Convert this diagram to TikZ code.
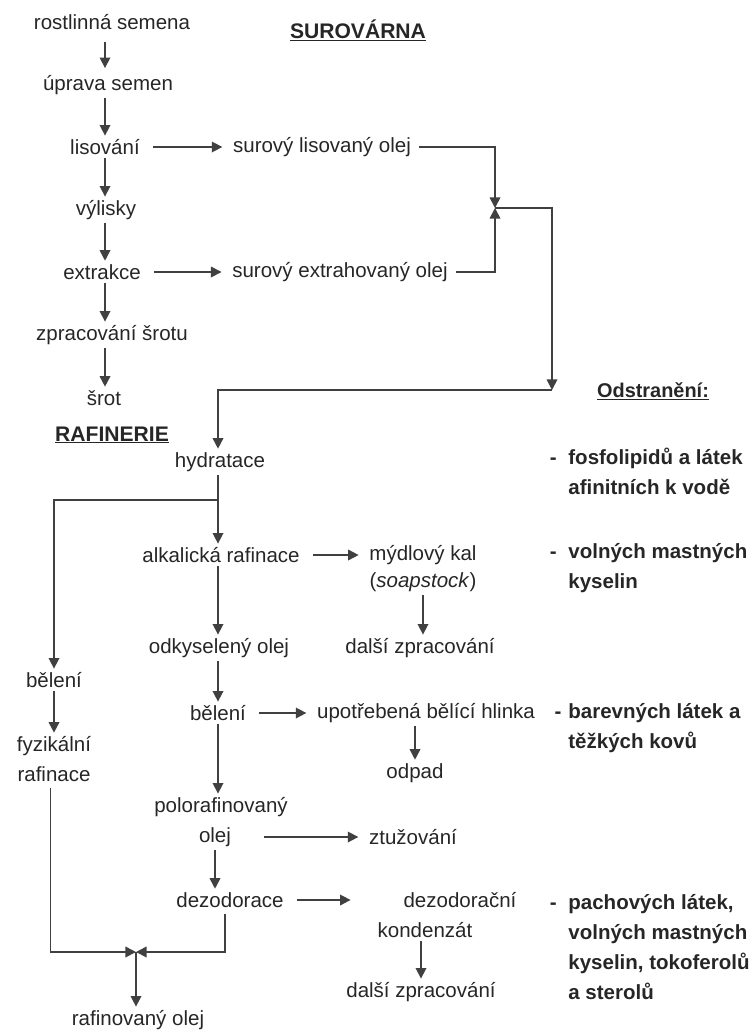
\documentclass[tikz,border=0pt]{standalone}
\usepackage{fontspec}
\setmainfont{Liberation Sans}
\usetikzlibrary{arrows.meta}
\newcommand{\pxunit}{0.03cm}
\tikzset{
	txt/.style={font=\fontsize{17.5}{25.5}\selectfont, text=black!85, inner sep=1pt, align=center},
	note/.style={txt, font=\fontsize{17.5}{25.5}\selectfont\bfseries, align=left, anchor=west},
	hdr/.style={font=\fontsize{18}{20}\selectfont\bfseries, text=black!85, inner sep=1pt},
	flow/.style={draw=black!75, line width=1.4pt, -{Triangle[length=9pt,width=9pt]}, shorten >=2pt, shorten <=2pt},
	feed/.style={flow, shorten <=10pt, shorten >=8pt}
}

\begin{document}
\begin{tikzpicture}[x=\pxunit,y=-\pxunit]
	\useasboundingbox (0,0) rectangle (751,1035);

	% surovarna
	\node[hdr] (hsur) at (358,30) {\underline{SUROVÁRNA}};
	\node[txt] (seeds) at (112,22) {rostlinná semena};
	\node[txt] (prep) at (108,85) {úprava semen};
	\node[txt] (press) at (105,147) {lisování};
	\node[txt] (cake) at (106,210) {výlisky};
	\node[txt] (extr) at (102,272) {extrakce};
	\node[txt] (meal) at (112,335) {zpracování šrotu};
	\node[txt] (srot) at (104,398) {šrot};
	\node[txt] (poil) at (322,147) {surový lisovaný olej};
	\node[txt] (eoil) at (340,272) {surový extrahovaný olej};

	\draw[flow, shorten <=9pt, shorten >=5pt] (seeds.south -| press) -- (prep.north -| press);
	\draw[flow] (prep.south -| press) -- (press.north);
	\draw[flow] (press.south) -- (cake.north -| press);
	\draw[flow] (cake.south -| press) -- (extr.north -| press);
	\draw[flow] (extr.south -| press) -- (meal.north -| press);
	\draw[flow] (meal.south -| press) -- (srot.north -| press);
	\draw[feed] (press) -- (poil);
	\draw[feed] (extr) -- (eoil);

	\coordinate (join) at (495,208);
	\coordinate (turn) at (552,390);
	\draw[flow, shorten <=6pt, shorten >=0pt] (poil.east) -| (join);
	\draw[flow, shorten <=6pt, shorten >=0pt] (eoil.east) -| (join);
	\draw[flow, shorten <=0pt, shorten >=0pt] (join) -| (turn);

	% rafinerie
	\node[hdr] (hraf) at (112,435) {\underline{RAFINERIE}};
	\node[hdr, font=\fontsize{17}{20}\selectfont\bfseries] (hodst) at (653,391) {\underline{Odstranění:}};
	\node[txt] (hydr) at (220,462) {hydratace};
	\node[txt] (alk) at (221,555) {alkalická rafinace};
	\node[txt] (soap) at (423,555) {mýdlový kal};
	\node[txt] (stock) at (423,582) {(\textit{soapstock})};
	\node[txt] (proc1) at (420,648) {další zpracování};
	\node[txt] (deac) at (219,648) {odkyselený olej};
	\node[txt] (bleach) at (218,713) {bělení};
	\node[txt] (earth) at (426,713) {upotřebená bělící hlinka};
	\node[txt] (waste) at (415,773) {odpad};
	\node[txt] (semi) at (221,807) {polorafinovaný};
	\node[txt] (semioil) at (215,837) {olej};
	\node[txt] (hard) at (413,837) {ztužování};
	\node[txt] (deod) at (230,900) {dezodorace};
	\node[txt] (cond) at (460,900) {dezodorační};
	\node[txt] (condb) at (425,930) {kondenzát};
	\node[txt] (proc2) at (421,992) {další zpracování};
	\node[txt] (bleachl) at (54,680) {bělení};
	\node[txt] (phys) at (54,759) {fyzikální\\rafinace};
	\node[txt] (refined) at (138,1020) {rafinovaný olej};

	\coordinate (split) at (218,500);
	\draw[flow, shorten <=0pt] (turn) -| (hydr.north -| split);
	\draw[flow, shorten <=0pt] (split) -| (bleachl.north);
	\draw[flow] (hydr.south -| split) -- (alk.north -| split);
	\draw[flow] (alk.south -| split) -- (deac.north -| split);
	\draw[flow] (deac.south -| split) -- (bleach.north);
	\draw[flow] (bleach.south) -- (semi.north -| bleach);
	\draw[flow] (semioil.south) -- (deod.north -| semioil);
	\draw[flow] (bleachl) -- (phys);
	\draw[feed] (alk) -- (soap);
	\draw[feed] (bleach) -- (earth);
	\draw[feed, shorten <=27pt] (semioil) -- (hard);
	\draw[feed] (deod) -- ([xshift=-36pt]cond.west);
	\draw[flow] (stock.south -| soap) -- (proc1.north -| soap);
	\draw[flow] (earth.south -| waste) -- (waste.north);
	\draw[flow] (condb.south -| proc2) -- (proc2.north -| proc2);

	\coordinate (merge) at (136,952);
	\draw[flow, shorten <=4pt, shorten >=0pt] ([xshift=-3pt]phys.south) |- (merge);
	\draw[flow, shorten <=4pt, shorten >=0pt] ([xshift=-4pt]deod.south) |- (merge);
	\draw[flow, shorten <=0pt] (merge) -- (merge |- refined.north);

	% odstraneni
	\node[note] (n1) at (567,471) {\llap{-\hspace{10pt}}fosfolipidů a látek\\afinitních k vodě};
	\node[note] (n2) at (567,568) {\llap{-\hspace{10pt}}volných mastných\\kyselin};
	\node[note] (n3) at (567,728) {\llap{-\hspace{6pt}}barevných látek a\\těžkých kovů};
	\node[note] (n4) at (567,947) {\llap{-\hspace{10pt}}pachových látek,\\volných mastných\\kyselin, tokoferolů\\a sterolů};
\end{tikzpicture}
\end{document}
